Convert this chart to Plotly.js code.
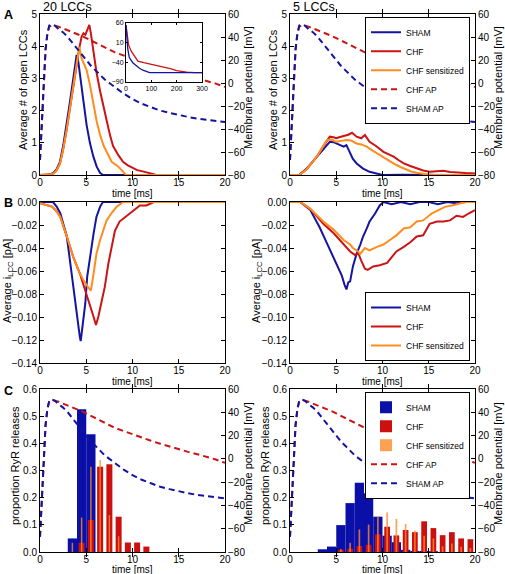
<!DOCTYPE html>
<html><head><meta charset="utf-8">
<script src="https://cdn.plot.ly/plotly-3.0.1.min.js"></script>
<style>html,body{margin:0;padding:0;background:#fff}#chart{width:505px;height:574px}</style>
</head><body><div id="chart"></div>
<script>
// ---------- data ----------
const xTicks = [0, 5, 10, 15, 20];
// action potentials (ms, mV)
const apT    = [0,0.2,0.4,0.6,0.8,1.0,1.3,1.6,2.0,2.5,3.0,3.5,4.0,4.5,5.0,5.5,6.0,6.5,7.0,7.5,8.0,9,10,11,12,13,14,15,16,17,18,19,20];
const shamAP = [-67,-38,0,29,43,50,51,50,47,44,40,35,29,24,19,15,11,7,3,0,-3,-9,-14,-18,-21,-24,-26,-28,-29.5,-31,-32,-33,-34];
const chfAP  = [-67,-38,0,29,43,49,50,50,49,47.5,46,44.5,43,41,39,37,35,33,31,29,27,24,21,18,15.5,13,10.5,8,6,4,2,-0.5,-3.5];
// inset: full AP (0-300 ms)
const insetShamT = [0,3,7,13,20,27,40,53,67,80,93,120,200,300];
const insetShamV = [55,25,-6,-28,-36,-41,-48,-55,-60,-64,-66,-66,-66,-66];
const insetChfT  = [0,5,10,20,30,47,70,93,120,147,175,200,220,240,270,300];
const insetChfV  = [55,25,5,-11,-22,-37,-41,-44,-47,-52,-56,-61,-63,-65,-66,-66];
// A left: 20 LCCs, average # open LCCs
const aL_shamT = [0,0.8,1.2,1.5,1.8,2.16,2.52,2.88,3.24,3.6,3.8,3.96,4.14,4.32,4.5,4.68,5.04,5.4,5.77,6.13,6.5,6.85,8,20];
const aL_shamV = [0,0,0.03,0.08,0.18,0.41,0.93,1.55,2.28,3.0,3.4,3.73,3.52,3.16,2.8,2.33,1.55,0.99,0.57,0.26,0.06,0,0,0];
const aL_chfT  = [0,0.8,1.2,1.5,1.8,2.16,2.52,2.88,3.24,3.6,3.96,4.25,4.5,4.7,4.9,5.1,5.33,5.5,5.8,6.1,6.5,6.85,7.2,7.6,7.9,8.5,9.0,9.5,10,10.5,11,11.5,12,12.5,20];
const aL_chfV  = [0,0,0.02,0.06,0.15,0.35,0.82,1.4,2.08,2.8,3.42,3.95,4.3,4.4,4.35,4.5,4.66,4.4,3.8,3.2,2.6,2.1,1.7,1.2,0.9,0.6,0.4,0.3,0.22,0.15,0.12,0.08,0.04,0.01,0];
const aL_sensT = [0,0.8,1.2,1.5,1.8,2.16,2.52,2.88,3.24,3.6,3.96,4.25,4.5,5.04,5.4,5.77,6.13,6.5,6.85,7.2,7.75,8.47,9.0,9.3,20];
const aL_sensV = [0,0,0.02,0.06,0.15,0.35,0.82,1.4,2.08,2.8,3.42,3.98,3.62,3.26,2.8,2.17,1.66,1.24,0.93,0.72,0.41,0.26,0.1,0,0];
// A right: 5 LCCs
const aR_shamT = [0,1,1.8,2.9,3.5,4.0,4.3,4.7,5.0,5.4,5.8,6.1,6.5,6.8,7.2,7.9,8.6,9.4,10,12,14,16,18,20];
const aR_shamV = [0,0,0.2,0.57,0.78,0.93,1.03,1.02,0.98,0.92,0.88,0.93,0.67,0.5,0.36,0.2,0.1,0.03,0,0.01,0,0.01,0,0];
const aR_chfT  = [0,1,1.8,2.9,3.5,4.0,4.3,4.7,5.0,5.4,5.8,6.3,6.7,7.2,7.7,8.1,8.6,9.3,10.1,10.6,11.2,11.8,12.3,13,13.7,14.4,15.1,15.8,16.6,17.3,18,19,20];
const aR_chfV  = [0,0,0.18,0.57,0.85,1.09,1.19,1.17,1.14,1.18,1.21,1.25,1.31,1.19,1.14,1.24,1.03,0.9,0.72,0.65,0.57,0.45,0.36,0.28,0.2,0.14,0.1,0.12,0.13,0.09,0.07,0.06,0.05];
const aR_sensT = [0,1,1.8,2.9,3.5,4.0,4.5,5.0,5.5,6.1,6.6,7.2,7.7,8.3,8.8,9.4,10,10.5,11,11.5,12,12.6,13.1,13.7,14.5,15.5,20];
const aR_sensV = [0,0,0.18,0.57,0.85,1.09,1.1,1.03,1.06,1.09,1.07,0.98,0.95,0.88,0.78,0.67,0.56,0.47,0.4,0.31,0.24,0.16,0.11,0.07,0.03,0.01,0];
// B left: average iLCC (pA), 20 LCCs
const bL_shamT = [0,1.4,1.8,2.2,2.9,3.4,3.8,4.0,4.3,4.4,4.6,4.9,5.1,5.4,5.8,6.1,6.5,6.8,20];
const bL_shamV = [0,0,-0.004,-0.010,-0.030,-0.062,-0.085,-0.102,-0.117,-0.121,-0.108,-0.088,-0.065,-0.048,-0.027,-0.013,-0.004,0,0];
const bL_chfT  = [0,1.3,1.8,2.2,2.9,3.6,4.3,5.0,5.4,5.8,6.05,6.3,6.7,7.0,7.4,7.7,8.1,8.6,9.4,10.1,10.8,11.5,12.3,20];
const bL_chfV  = [-0.001,-0.004,-0.008,-0.013,-0.030,-0.048,-0.062,-0.079,-0.090,-0.100,-0.107,-0.100,-0.085,-0.074,-0.053,-0.042,-0.025,-0.017,-0.012,-0.007,-0.003,-0.003,0,0];
const bL_sensT = [0,1.3,1.8,2.2,2.9,3.6,4.3,4.7,5.2,5.5,5.8,6.1,6.5,6.8,7.2,7.7,8.3,9.0,20];
const bL_sensV = [-0.001,-0.004,-0.008,-0.013,-0.030,-0.048,-0.062,-0.068,-0.074,-0.077,-0.062,-0.045,-0.033,-0.025,-0.016,-0.010,-0.004,0,0];
// B right: 5 LCCs
const bR_shamT = [0,1.1,2.2,3.2,4.0,4.7,5.2,5.6,5.9,6.1,6.3,6.5,6.8,7.2,7.6,7.9,8.3,8.6,9.2,9.7,10.1,11,12,13,14,15,16,17,18,19,20];
const bR_shamV = [0,0,-0.007,-0.022,-0.036,-0.048,-0.056,-0.064,-0.072,-0.076,-0.070,-0.069,-0.056,-0.045,-0.037,-0.030,-0.023,-0.017,-0.010,-0.003,0,-0.002,0,-0.002,0,0,-0.002,0,-0.001,0,0];
const bR_chfT  = [0,1.1,2.2,3.6,4.7,5.8,6.5,7.0,7.4,7.7,8.1,8.4,9.0,9.7,10.5,11.0,11.5,12.3,13.0,13.7,14.4,15.1,15.9,16.6,17.3,18.0,18.7,19.3,20];
const bR_chfV  = [0,0,-0.006,-0.019,-0.027,-0.037,-0.043,-0.046,-0.045,-0.051,-0.058,-0.059,-0.056,-0.055,-0.053,-0.048,-0.043,-0.039,-0.035,-0.030,-0.029,-0.019,-0.017,-0.017,-0.016,-0.012,-0.013,-0.010,-0.007];
const bR_sensT = [0,1.1,2.2,3.6,4.7,5.8,6.5,6.8,7.2,7.6,8.1,8.6,9.4,10.1,10.8,11.5,12.3,13.0,13.7,14.4,15.3,16.1,16.8,17.5,18.4,19,20];
const bR_sensV = [0,0,-0.006,-0.017,-0.024,-0.033,-0.037,-0.040,-0.042,-0.045,-0.040,-0.042,-0.039,-0.037,-0.033,-0.029,-0.023,-0.022,-0.017,-0.016,-0.010,-0.007,-0.004,-0.003,-0.001,0,0];
// C: proportion of RyR releases per 1 ms bin (bin centres)
const cL_shamX = [3.5,4.5,5.5];
const cL_shamY = [0.05,0.525,0.433];
const cL_chfX  = [4.5,5.5,6.5,7.5,8.5,9.5,10.5,11.5];
const cL_chfY  = [0.034,0.118,0.314,0.323,0.13,0.035,0.035,0.02];
const cL_sensX = [3.5,4.5,5.5,6.5,7.5,8.5];
const cL_sensY = [0.034,0.127,0.314,0.339,0.136,0.058];
const cR_shamX = [3.5,4.5,5.5,6.5,7.5,8.5,9.5,10.5,11.5,12.5,13.5,14.5,15.5];
const cR_shamY = [0.01,0.02,0.099,0.18,0.255,0.216,0.13,0.06,0.036,0.008,0.004,0.004,0.003];
const cR_chfX  = [5.5,6.5,7.5,8.5,9.5,10.5,11.5,12.5,13.5,14.5,15.5,16.5,17.5,18.5,19.5];
const cR_chfY  = [0.008,0.012,0.022,0.026,0.065,0.093,0.061,0.081,0.073,0.113,0.088,0.062,0.073,0.05,0.047];
const cR_sensX = [5.5,6.5,7.5,8.5,9.5,10.5,11.5,12.5,13.5,14.5,15.5,16.5,17.5,18.5,19.5];
const cR_sensY = [0.01,0.034,0.083,0.101,0.131,0.145,0.122,0.103,0.079,0.06,0.05,0.021,0.031,0.019,0.015];

// ---------- styles ----------
const BLUE = '#1414a0', RED = '#cc1414', ORANGE = '#ff8c1e';
const BLUEBAR = '#0a0fa8', REDBAR = '#cc1010', ORANGEBAR = '#ff8a28';
const W = 505, H = 574;
const xd = (a, b) => [a / W, b / W];
const yd = (top, bot) => [1 - bot / H, 1 - top / H];

function line(x, y, xa, ya, color, name, legend, dash) {
  return {type: 'scatter', mode: 'lines', x: x, y: y, xaxis: xa, yaxis: ya, name: name,
    line: {color: color, width: 2, dash: dash || 'solid'},
    showlegend: !!legend, legend: legend || 'legend', hoverinfo: 'skip'};
}
function bars(x, y, xa, ya, color, w, op, name, legend) {
  return {type: 'bar', x: x, y: y, xaxis: xa, yaxis: ya, name: name, width: w, opacity: op,
    marker: {color: color, line: {width: 0}}, showlegend: !!legend, legend: legend || 'legend', hoverinfo: 'skip'};
}
const DASH = '6px,4px';

const data = [
  // A left
  line(aL_shamT, aL_shamV, 'x', 'y', BLUE, 'SHAM'),
  line(aL_chfT, aL_chfV, 'x', 'y', RED, 'CHF'),
  line(aL_sensT, aL_sensV, 'x', 'y', ORANGE, 'CHF sensitized'),
  line(apT, chfAP, 'x', 'y2', RED, 'CHF AP', null, DASH),
  line(apT, shamAP, 'x', 'y2', BLUE, 'SHAM AP', null, DASH),
  // A right
  line(aR_shamT, aR_shamV, 'x2', 'y3', BLUE, 'SHAM', 'legend'),
  line(aR_chfT, aR_chfV, 'x2', 'y3', RED, 'CHF', 'legend'),
  line(aR_sensT, aR_sensV, 'x2', 'y3', ORANGE, 'CHF sensitized', 'legend'),
  line(apT, chfAP, 'x2', 'y4', RED, 'CHF AP', 'legend', DASH),
  line(apT, shamAP, 'x2', 'y4', BLUE, 'SHAM AP', 'legend', DASH),
  // B left
  line(bL_shamT, bL_shamV, 'x3', 'y5', BLUE, 'SHAM'),
  line(bL_chfT, bL_chfV, 'x3', 'y5', RED, 'CHF'),
  line(bL_sensT, bL_sensV, 'x3', 'y5', ORANGE, 'CHF sensitized'),
  // B right
  line(bR_shamT, bR_shamV, 'x4', 'y6', BLUE, 'SHAM', 'legend2'),
  line(bR_chfT, bR_chfV, 'x4', 'y6', RED, 'CHF', 'legend2'),
  line(bR_sensT, bR_sensV, 'x4', 'y6', ORANGE, 'CHF sensitized', 'legend2'),
  // C left
  bars(cL_shamX, cL_shamY, 'x5', 'y7', BLUEBAR, 1, 1, 'SHAM'),
  bars(cL_chfX, cL_chfY, 'x5', 'y7', REDBAR, 0.65, 1, 'CHF'),
  bars(cL_sensX, cL_sensY, 'x5', 'y7', ORANGEBAR, 0.16, 0.8, 'CHF sensitized'),
  line(apT, chfAP, 'x5', 'y8', RED, 'CHF AP', null, DASH),
  line(apT, shamAP, 'x5', 'y8', BLUE, 'SHAM AP', null, DASH),
  // C right
  bars(cR_shamX, cR_shamY, 'x6', 'y9', BLUEBAR, 1, 1, 'SHAM', 'legend3'),
  bars(cR_chfX, cR_chfY, 'x6', 'y9', REDBAR, 0.62, 1, 'CHF', 'legend3'),
  bars(cR_sensX, cR_sensY, 'x6', 'y9', ORANGEBAR, 0.18, 0.8, 'CHF sensitized', 'legend3'),
  line(apT, chfAP, 'x6', 'y10', RED, 'CHF AP', 'legend3', DASH),
  line(apT, shamAP, 'x6', 'y10', BLUE, 'SHAM AP', 'legend3', DASH),
  // inset
  line(insetChfT, insetChfV, 'x7', 'y11', RED, 'CHF AP'),
  line(insetShamT, insetShamV, 'x7', 'y11', BLUE, 'SHAM AP')
];
data.filter(t => t.xaxis === 'x7').forEach(t => t.line.width = 1.3);

const base = {showline: true, linecolor: '#000', linewidth: 1, ticks: 'inside', ticklen: 4,
  tickcolor: '#000', showgrid: false, zeroline: false, tickfont: {size: 10, color: '#000'}};
function xax(dom, anchor) {
  return Object.assign({}, base, {domain: dom, anchor: anchor, range: [0, 20], tickvals: xTicks, mirror: 'allticks',
    ticklabelstandoff: -2});
}
function yax(dom, anchor, range, dtick, fmt, mirror) {
  return Object.assign({}, base, {domain: dom, anchor: anchor, range: range, dtick: dtick,
    tickformat: fmt, mirror: mirror ? 'allticks' : false});
}
function mvax(over, anchor) {
  return Object.assign({}, base, {overlaying: over, anchor: anchor, side: 'right', range: [-80, 60], dtick: 20});
}
const XL = xd(40, 225), XR = xd(290, 475);
const YA = yd(14, 175), YB = yd(202, 363), YC = yd(389, 552);

const legBase = {bgcolor: '#fff', bordercolor: '#000', borderwidth: 1, font: {size: 8.5, color: '#000'},
  xanchor: 'right', tracegroupgap: 0};

// axis titles and panel labels (text placed in page pixels)
function txt(text, px, py, size, angle) {
  return {text: text, xref: 'paper', yref: 'paper', x: px / W, y: 1 - py / H, xanchor: 'center', yanchor: 'middle',
    showarrow: false, textangle: angle || 0, font: {size: size, color: '#000'}};
}
function lab(text, px, py, size) {
  const a = txt(text, px, py, size); a.xanchor = 'left'; return a;
}
const annotations = [
  lab('20 LCCs', 41, 7, 12.5), lab('5 LCCs', 291, 7, 12.5),
  lab('<b>A</b>', 2, 15, 12.5), lab('<b>B</b>', 2, 203, 12.5), lab('<b>C</b>', 2, 391, 12.5),
  // x titles
  txt('time [ms]', 132.5, 193, 10), txt('time [ms]', 382.5, 193, 10),
  txt('time [ms]', 132.5, 381.5, 10), txt('time [ms]', 382.5, 381.5, 10),
  txt('time [ms]', 132.5, 569.5, 10), txt('time [ms]', 382.5, 569.5, 10),
  // left y titles
  txt('Average # of open LCCs', 23, 90, 11, -90), txt('Average # of open LCCs', 273, 90, 11, -90),
  txt('Average i<sub>LCC</sub> [pA]', 8, 281, 11, -90), txt('Average i<sub>LCC</sub> [pA]', 257, 281, 11, -90),
  txt('proportion RyR releases', 15, 466, 11, -90), txt('proportion RyR releases', 265, 466, 11, -90),
  // right y titles
  txt('Membrane potential [mV]', 248, 88, 11, -90), txt('Membrane potential [mV]', 498, 88, 11, -90),
  txt('Membrane potential [mV]', 248, 464, 11, -90), txt('Membrane potential [mV]', 498, 464, 11, -90)
];

const layout = {
  width: W, height: H, margin: {l: 0, r: 0, t: 0, b: 0},
  paper_bgcolor: '#fff', plot_bgcolor: '#fff',
  font: {family: 'Liberation Sans, Arial, sans-serif', color: '#000', size: 10},
  barmode: 'overlay', showlegend: true,
  xaxis: xax(XL, 'y'),
  yaxis: yax(YA, 'x', [0, 5], 1, null),
  yaxis2: mvax('y', 'x'),
  xaxis2: xax(XR, 'y3'),
  yaxis3: yax(YA, 'x2', [0, 5], 1, null),
  yaxis4: mvax('y3', 'x2'),
  xaxis3: xax(XL, 'y5'),
  yaxis5: yax(YB, 'x3', [-0.14, 0], 0.02, '.2f', true),
  xaxis4: xax(XR, 'y6'),
  yaxis6: yax(YB, 'x4', [-0.14, 0], 0.02, '.2f', true),
  xaxis5: xax(XL, 'y7'),
  yaxis7: yax(YC, 'x5', [0, 0.6], 0.1, '.1f'),
  yaxis8: mvax('y7', 'x5'),
  xaxis6: xax(XR, 'y9'),
  yaxis9: yax(YC, 'x6', [0, 0.6], 0.1, '.1f'),
  yaxis10: mvax('y9', 'x6'),
  xaxis7: Object.assign({}, base, {domain: xd(126, 202), anchor: 'y11', range: [0, 300], tickvals: [0, 100, 200, 300],
    mirror: 'allticks', ticklen: 2, tickfont: {size: 7, color: '#000'}}),
  yaxis11: Object.assign({}, base, {domain: yd(23, 82), anchor: 'x7', range: [-90, 60], tickvals: [-90, -40, 10, 60],
    mirror: 'allticks', ticklen: 2, tickfont: {size: 7, color: '#000'}}),
  legend: Object.assign({}, legBase, {x: 470 / W, y: 1 - 16.7 / H, yanchor: 'top'}),
  legend2: Object.assign({}, legBase, {x: 470 / W, y: 1 - 361 / H, yanchor: 'bottom'}),
  legend3: Object.assign({}, legBase, {x: 470 / W, y: 1 - 391.7 / H, yanchor: 'top'}),
  annotations: annotations
};

Plotly.newPlot('chart', data, layout, {staticPlot: true, displayModeBar: false});
</script></body></html>
